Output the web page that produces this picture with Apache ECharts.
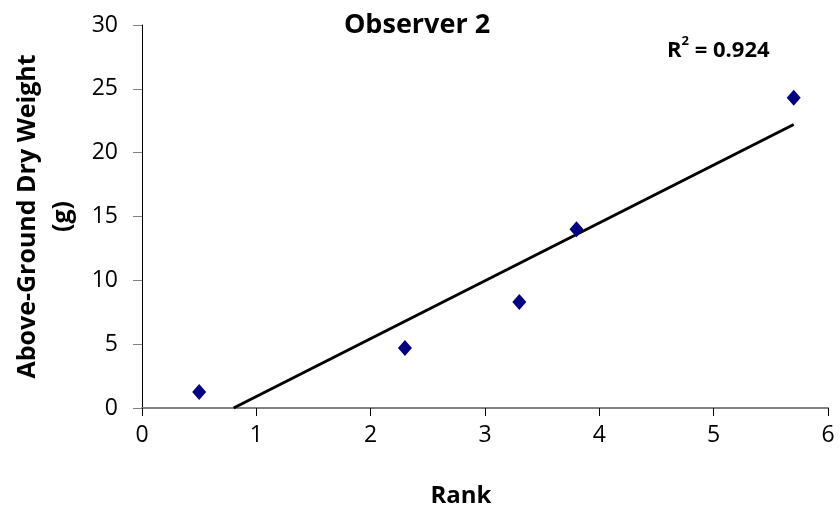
<!DOCTYPE html>
<html><head><meta charset="utf-8">
<script src="https://cdn.jsdelivr.net/npm/echarts@6/dist/echarts.min.js"></script>
<style>html,body{margin:0;padding:0;background:#fff}#c{width:840px;height:515px}</style>
</head><body><div id="c"></div>
<script>
const rankValues = [0.5, 2.3, 3.3, 3.8, 5.7];
const weightValues = [1.25, 4.7, 8.3, 14.0, 24.3];
const chartTitle = 'Observer 2';
const xTicks = [0, 1, 2, 3, 4, 5, 6];
const yTicks = [0, 5, 10, 15, 20, 25, 30];

// linear regression trendline computed from data
const n = rankValues.length;
const mx = rankValues.reduce((a,b)=>a+b,0)/n;
const my = weightValues.reduce((a,b)=>a+b,0)/n;
let sxy=0,sxx=0,syy=0;
for(let i=0;i<n;i++){const dx=rankValues[i]-mx,dy=weightValues[i]-my;sxy+=dx*dy;sxx+=dx*dx;syy+=dy*dy;}
const slope=sxy/sxx, intercept=my-slope*mx;
const r2=(sxy*sxy)/(sxx*syy);
let x0=Math.min(...rankValues), x1=Math.max(...rankValues);
if(slope*x0+intercept<0) x0=-intercept/slope;
const trend=[[x0,slope*x0+intercept],[x1,slope*x1+intercept]];

const FONT='Open Sans';
const chart=echarts.init(document.getElementById('c'),null,{renderer:'canvas'});
chart.setOption({
  animation:false,
  backgroundColor:'#fff',
  title:{text:chartTitle,left:412,top:7,textAlign:'center',
    textStyle:{fontFamily:FONT,fontSize:27,fontWeight:'bold',color:'#000'}},
  grid:{left:142,right:12,top:25,bottom:107,containLabel:false,outerBoundsMode:'none'},
  xAxis:{type:'value',min:xTicks[0],max:xTicks[xTicks.length-1],interval:1,
    name:'Rank',nameLocation:'middle',nameGap:76,
    nameTextStyle:{fontFamily:FONT,fontSize:24,fontWeight:'bold',color:'#000',padding:[0,48,0,0]},
    axisLine:{show:true,onZero:false,lineStyle:{color:'#808080',width:2}},
    axisTick:{show:true,length:8,lineStyle:{color:'#000',width:1}},
    axisLabel:{margin:16,fontFamily:FONT,fontSize:23,color:'#000'},
    splitLine:{show:false}},
  yAxis:{type:'value',min:yTicks[0],max:yTicks[yTicks.length-1],interval:5,
    name:'Above-Ground Dry Weight\n(g)',nameLocation:'middle',nameGap:51,nameRotate:90,
    nameTextStyle:{fontFamily:FONT,fontSize:25,fontWeight:'bold',color:'#000',lineHeight:35},
    axisLine:{show:true,onZero:false,lineStyle:{color:'#000',width:1}},
    axisTick:{show:true,length:9,lineStyle:{color:'#808080',width:1}},
    axisLabel:{margin:24,fontFamily:FONT,fontSize:23,color:'#000'},
    splitLine:{show:false}},
  series:[
    {type:'line',data:trend,showSymbol:false,symbol:'none',clip:true,
      lineStyle:{color:'#000',width:3},z:2},
    {type:'scatter',data:rankValues.map((x,i)=>[x,weightValues[i]]),
      symbol:'diamond',symbolSize:[14,16],itemStyle:{color:'#000080',opacity:1},z:3}
  ],
  graphic:[{type:'text',left:667,top:35,style:{
    text:'{b|R}{s|2}{b| = '+r2.toFixed(3)+'}',
    rich:{b:{fontFamily:FONT,fontSize:22,fontWeight:'bold',fill:'#000',verticalAlign:'bottom'},
          s:{fontFamily:FONT,fontSize:13,fontWeight:'bold',fill:'#000',verticalAlign:'top',padding:[0,0,14,0]}}}}]
});
</script></body></html>
